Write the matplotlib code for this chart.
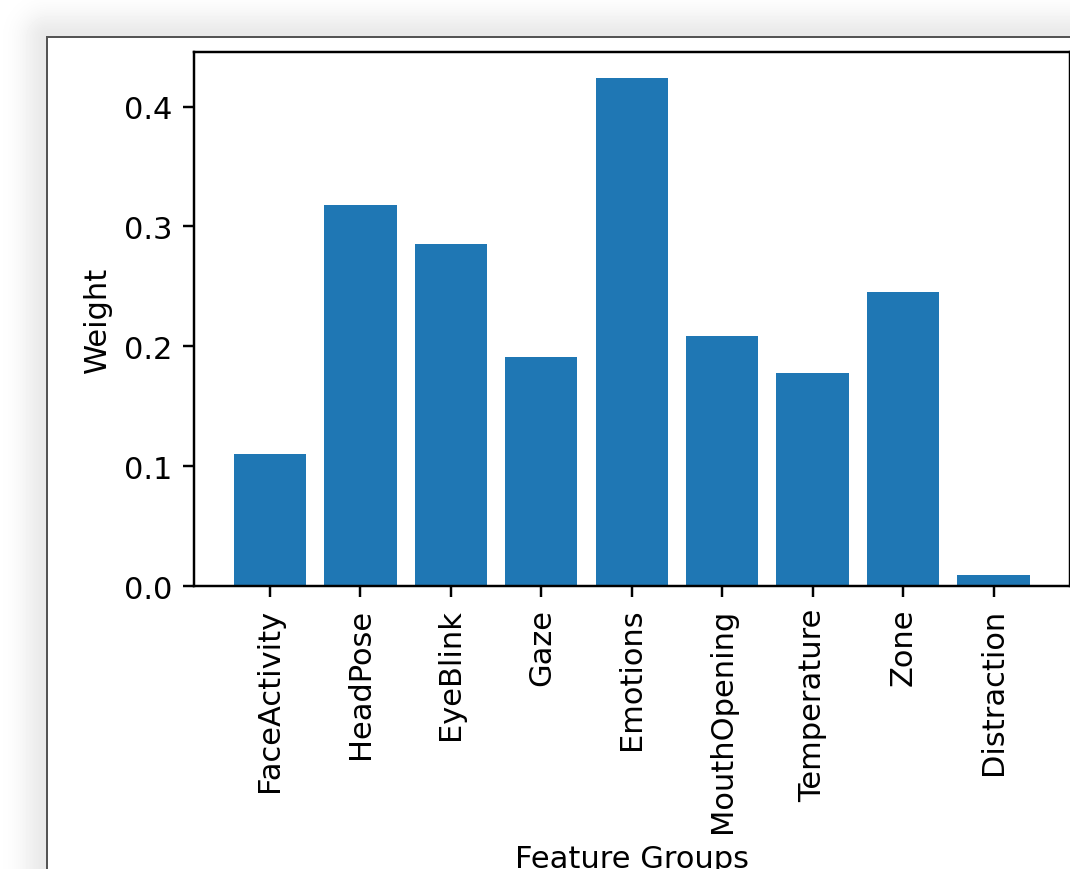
import numpy as np
import matplotlib
matplotlib.use("Agg")
from matplotlib import pyplot as plt
from matplotlib.ticker import MultipleLocator

groups = ["FaceActivity", "HeadPose", "EyeBlink", "Gaze", "Emotions",
          "MouthOpening", "Temperature", "Zone", "Distraction"]
weights = [0.1107, 0.3178, 0.2850, 0.1913, 0.4240,
           0.2086, 0.1776, 0.2450, 0.0096]

# everything scaled up like a hi-dpi notebook render
s = 2.2
plt.rcParams.update({
    "font.family": "DejaVu Sans",
    "font.size": 10 * s,
    "axes.linewidth": 0.8 * s,
    "xtick.major.size": 3.5 * s,
    "ytick.major.size": 3.5 * s,
    "xtick.major.width": 0.8 * s,
    "ytick.major.width": 0.8 * s,
    "xtick.major.pad": 3.5 * s,
    "ytick.major.pad": 3.5 * s,
    "axes.labelpad": 4 * s,
})

W, H = 1070, 870
fig = plt.figure(figsize=(W / 100, H / 100), dpi=100)

# window backdrop: soft drop shadow round the figure panel
bg = fig.add_axes([0, 0, 1, 1], zorder=-10)
xs = np.arange(W)[None, :]
ys = np.arange(H)[:, None]
px, py = 47, 38
dx = np.clip(px - xs, 0, None)
dy = np.clip(py - ys, 0, None)
d = np.hypot(dx, dy)
img = 255 - 22 * np.exp(-d ** 2 / (2 * 18.0 ** 2))
img = np.where((xs >= px) & (ys >= py), 255.0, img)
edge = ((xs >= px - 1) & (xs <= px) & (ys >= py - 1)) | \
       ((ys >= py - 1) & (ys <= py) & (xs >= px - 1))
img = np.where(edge, 85.0, img)
bg.imshow(img, cmap="gray", vmin=0, vmax=255, extent=[0, W, H, 0],
          aspect="auto", interpolation="nearest")
bg.axis("off")

ax = fig.add_axes([194 / W, (H - 587.3) / H, 875.5 / W, 534 / H])
ax.bar(groups, weights, color="#1f77b4")
ax.yaxis.set_major_locator(MultipleLocator(0.1))
ax.set_xlabel("Feature Groups")
ax.set_ylabel("Weight")
plt.setp(ax.get_xticklabels(), rotation=90)

fig.savefig("out.png", dpi=100)
